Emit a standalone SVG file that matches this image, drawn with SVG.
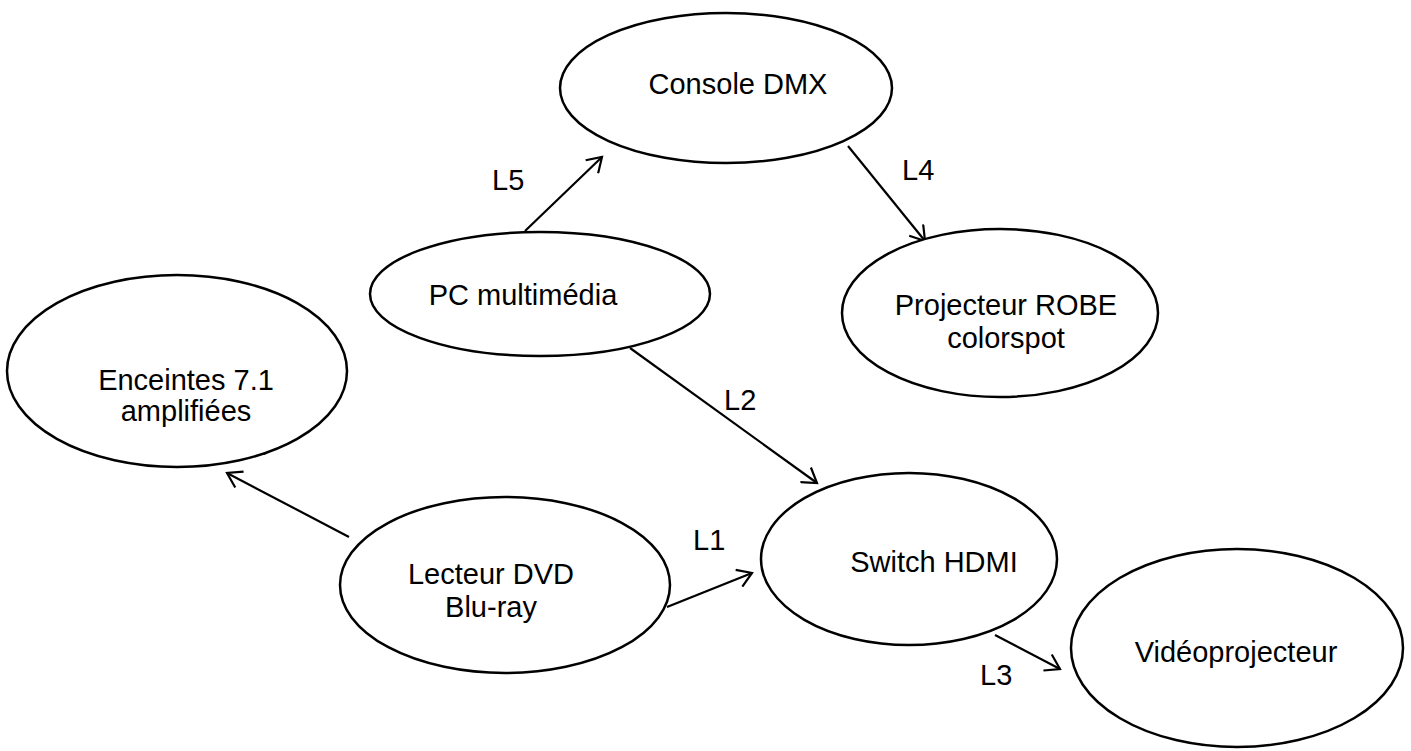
<svg xmlns="http://www.w3.org/2000/svg" width="1411" height="751" viewBox="0 0 1411 751">
<style>
.node{fill:#fff;stroke:#000;stroke-width:2.5}
.t{font-family:"Liberation Sans",Arial,sans-serif;font-size:29px;fill:#000;text-anchor:middle}
.lbl{font-family:"Liberation Sans",Arial,sans-serif;font-size:29px;fill:#000}
.c{stroke:#000;stroke-width:2.2;fill:none;marker-end:url(#arr)}
</style>
<defs>
<marker id="arr" viewBox="0 0 20 20" refX="17" refY="10" markerWidth="20" markerHeight="20" markerUnits="userSpaceOnUse" orient="auto">
<path d="M3,1 L17,10 L3,19" fill="none" stroke="#000" stroke-width="2.2"/>
</marker>
</defs>
<rect width="1411" height="751" fill="#fff"/>
<g id="connectors">
<line class="c" x1="525" y1="231" x2="602" y2="157"/>
<line class="c" x1="848" y1="146" x2="925" y2="241"/>
<line class="c" x1="630" y1="348" x2="817" y2="483"/>
<line class="c" x1="667" y1="607" x2="752" y2="573"/>
<line class="c" x1="995" y1="635" x2="1060" y2="669"/>
<line class="c" x1="349" y1="537" x2="227" y2="473"/>
</g>
<g id="labels">
<text class="lbl" x="492" y="190">L5</text>
<text class="lbl" x="902" y="180">L4</text>
<text class="lbl" x="724" y="410">L2</text>
<text class="lbl" x="693" y="550">L1</text>
<text class="lbl" x="238" y="455">L6</text>
<text class="lbl" x="980" y="685">L3</text>
</g>
<g id="console-dmx">
<ellipse class="node" cx="726" cy="88" rx="166" ry="75"/>
<text class="t" x="738" y="94">Console DMX</text>
</g>
<g id="pc-multimedia">
<ellipse class="node" cx="540" cy="294" rx="170" ry="62"/>
<text class="t" x="523" y="305">PC multimédia</text>
</g>
<g id="projecteur-robe">
<ellipse class="node" cx="1000" cy="313" rx="158" ry="84"/>
<text class="t" x="1006" y="315">Projecteur ROBE</text>
<text class="t" x="1006" y="348">colorspot</text>
</g>
<g id="enceintes">
<ellipse class="node" cx="177" cy="371" rx="170" ry="96"/>
<text class="t" x="186" y="390">Enceintes 7.1</text>
<text class="t" x="186" y="421">amplifiées</text>
</g>
<g id="switch-hdmi">
<ellipse class="node" cx="909" cy="559" rx="148" ry="86"/>
<text class="t" x="934" y="572">Switch HDMI</text>
</g>
<g id="lecteur-dvd">
<ellipse class="node" cx="505" cy="585" rx="165" ry="88"/>
<text class="t" x="491" y="584">Lecteur DVD</text>
<text class="t" x="491" y="617">Blu-ray</text>
</g>
<g id="videoprojecteur">
<ellipse class="node" cx="1237" cy="648" rx="166" ry="99"/>
<text class="t" x="1236" y="662">Vidéoprojecteur</text>
</g>
</svg>
